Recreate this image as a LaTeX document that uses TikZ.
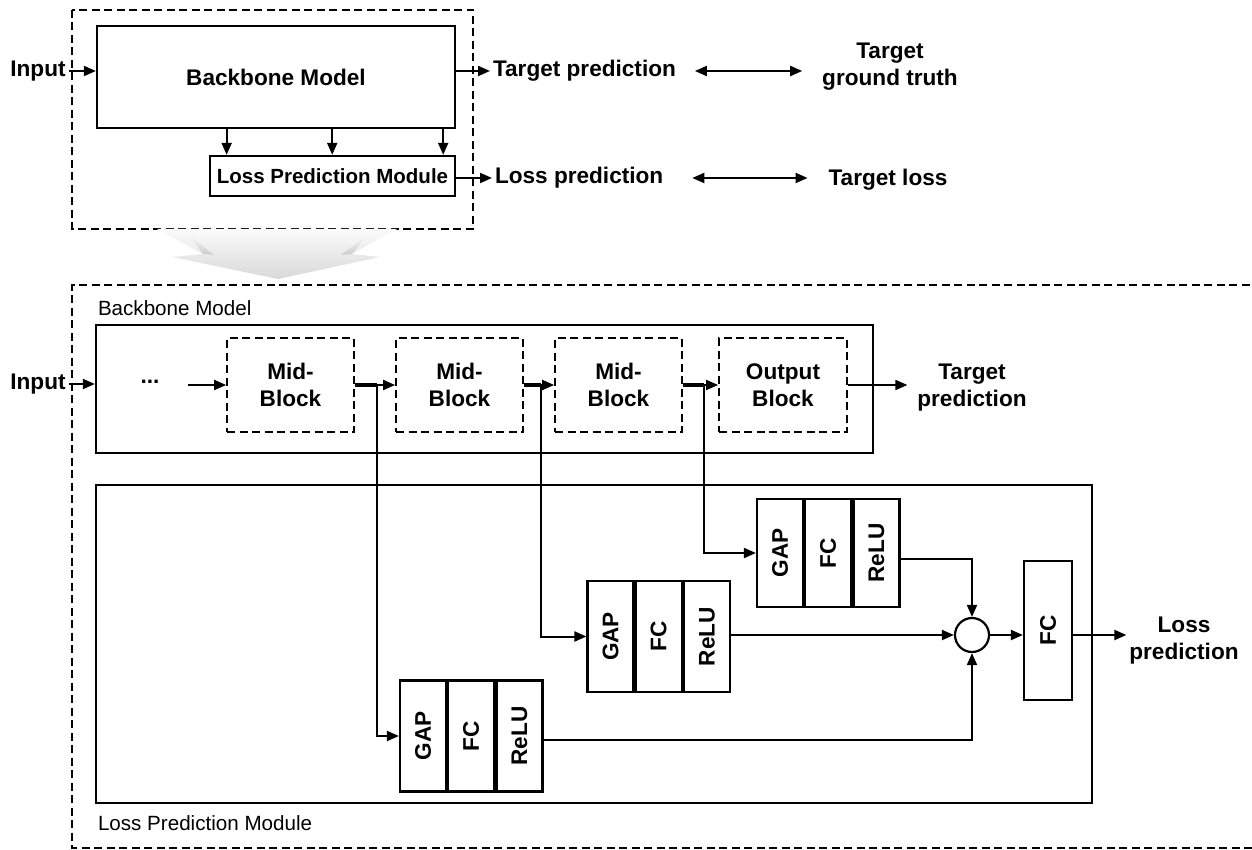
\documentclass[tikz,border=0pt]{standalone}
\usepackage{fontspec}
\usepackage{graphicx}
\setmainfont{Liberation Sans}
\usetikzlibrary{arrows.meta,calc}

\begin{document}
\begin{tikzpicture}[x=1pt,y=-1pt,line width=2pt,
  arr/.style={-{Triangle[length=12pt,width=10pt]}},
  dbl/.style={{Triangle[length=12pt,width=10pt]}-{Triangle[length=12pt,width=10pt]}},
  bigtxt/.style={font=\fontsize{22.6}{27}\selectfont\bfseries,align=center,inner sep=2pt},
  midtxt/.style={font=\fontsize{20.5}{24}\selectfont\bfseries,inner sep=0pt},
  smalltxt/.style={font=\fontsize{20.6}{24}\selectfont,inner sep=0pt},
  frame/.style={draw,line width=2.3pt,inner sep=0pt},
  dashbox/.style={draw,dash pattern=on 8pt off 4.5pt,line width=1.8pt},
  cell/.style={draw,line width=2.2pt,minimum width=46pt,minimum height=111pt,inner sep=0pt,
    font=\fontsize{22.6}{27}\selectfont\bfseries},
]
\useasboundingbox (0,0) rectangle (1252,850);

% ---------- overview: backbone with attached loss prediction module ----------
\draw[dashbox] (72,10) rectangle (473,229);
\node[bigtxt] (inTop) at (38,71) {Input};
\node[frame,minimum width=358pt,minimum height=102pt,bigtxt] (bbTop) at (276,77) {Backbone Model};
\node[frame,minimum width=245pt,minimum height=40pt,midtxt] (lpmTop) at (332.5,176) {Loss Prediction Module};
\draw[arr] (inTop.east) -- (inTop.east -| bbTop.west);
\foreach \f in {0.363,0.656,0.964}
  \draw[arr] ($(bbTop.south west)!\f!(bbTop.south east)$) coordinate (s) -- (s |- lpmTop.north);

\node[bigtxt,anchor=west] (tp) at (490,71) {Target prediction};
\node[bigtxt,anchor=west] (lp) at (492,178) {Loss prediction};
\draw[arr] (bbTop.east |- tp.west) -- (tp.west);
\draw[arr] (lpmTop.east |- lp.west) -- (lp.west);

\node[bigtxt] (gt) at (890,67) {Target\\ground truth};
\node[bigtxt] (tl) at (888,180) {Target loss};
\draw[dbl,shorten <=16pt,shorten >=17pt] (tp.east) -- (tp.east -| gt.west);
\draw[dbl,shorten <=26pt,shorten >=18pt] (lp.east) -- (lp.east -| tl.west);

% ---------- shaded transition arrow ----------
\shade[top color=gray!3,bottom color=gray!30]
  (157,229) -- (397,229) -- (352,254) -- (380,257) -- (278,279) -- (172,257) -- (203,254) -- cycle;
\shade[top color=gray!8,bottom color=gray!40]
  (190,236) -- (203,254) -- (214,255) -- cycle;
\shade[top color=gray!8,bottom color=gray!40]
  (366,236) -- (352,254) -- (341,255) -- cycle;

% ---------- detailed view ----------
\draw[dashbox] (1262,285) -| (72,848) -- (1262,848);

\node[smalltxt,anchor=west] (bbLbl) at (97,308) {Backbone Model};
\node[frame,minimum width=777pt,minimum height=128pt] (bb) at (484.5,389) {};
\node[bigtxt] (inB) at (38,384) {Input};
\draw[arr] (inB.east) -- (inB.east -| bb.west);

\node[bigtxt] (dots) at (150,382) {...};
\node[dashbox,minimum width=127pt,minimum height=94pt,bigtxt] (m1) at (290.5,385) {Mid-\\Block};
\node[dashbox,minimum width=127pt,minimum height=94pt,bigtxt] (m2) at (459.5,385) {Mid-\\Block};
\node[dashbox,minimum width=127pt,minimum height=94pt,bigtxt] (m3) at (618.5,385) {Mid-\\Block};
\node[dashbox,minimum width=128pt,minimum height=94pt,bigtxt] (ob) at (783,385) {Output\\Block};

\draw[arr,shorten <=26pt] (dots.east |- m1.west) -- (m1.west);
\draw[arr] (m1.east) -- (m2.west);
\draw[arr] (m2.east) -- (m3.west);
\draw[arr] (m3.east) -- (ob.west);

\node[bigtxt] (tpB) at (972,388) {Target\\prediction};
\draw[arr,shorten >=7pt] (ob.east) -- (ob.east -| tpB.west);

\node[frame,minimum width=996pt,minimum height=318pt] (lpm) at (594,644) {};
\node[smalltxt,anchor=west] (lpmLbl) at (97,823) {Loss Prediction Module};

% GAP-FC-ReLU branches
\node[cell] (a1) at (423,736) {\rotatebox{90}{GAP}};
\node[cell,anchor=west] (a2) at (a1.east) {\rotatebox{90}{FC}};
\node[cell,anchor=west] (a3) at (a2.east) {\rotatebox{90}{ReLU}};

\node[cell] (b1) at (610.5,636.5) {\rotatebox{90}{GAP}};
\node[cell,anchor=west] (b2) at (b1.east) {\rotatebox{90}{FC}};
\node[cell,anchor=west] (b3) at (b2.east) {\rotatebox{90}{ReLU}};

\node[cell,minimum height=108pt] (c1) at (780,553) {\rotatebox{90}{GAP}};
\node[cell,minimum height=108pt,anchor=west] (c2) at (c1.east) {\rotatebox{90}{FC}};
\node[cell,minimum height=108pt,anchor=west] (c3) at (c2.east) {\rotatebox{90}{ReLU}};

\coordinate (j1) at ($(m1.east)!0.55!(m2.west)$);
\coordinate (j2) at ($(m2.east)!0.58!(m3.west)$);
\coordinate (j3) at ($(m3.east)!0.6!(ob.west)$);
\draw[line width=3.6pt] (m1.east) -- (j1);
\draw[line width=3.6pt] (m2.east) -- (j2);
\draw[line width=3.6pt] (m3.east) -- (j3);
\draw[arr] (j1) |- (a1.west);
\draw[arr] (j2) |- (b1.west);
\draw[arr] (j3) |- (c1.west);

\node[draw,circle,minimum size=34pt,inner sep=0pt,line width=2.2pt] (sum) at (972,635) {};
\node[draw,line width=2.2pt,minimum width=48pt,minimum height=139pt,inner sep=0pt,
  font=\fontsize{22.6}{27}\selectfont\bfseries] (fc) at (1048,630.5) {\rotatebox{90}{FC}};

\draw[arr] ($(c3.east)+(0,6)$) -| (sum.north);
\draw[arr] (b3.east |- sum.west) -- (sum.west);
\draw[arr] ($(a3.east)+(0,4)$) -| (sum.south);
\draw[arr] (sum.east) -- (sum.east -| fc.west);

\node[bigtxt] (lpB) at (1184,641) {Loss\\prediction};
\draw[arr] (sum.east -| fc.east) -- (sum.east -| lpB.west);
\end{tikzpicture}
\end{document}
